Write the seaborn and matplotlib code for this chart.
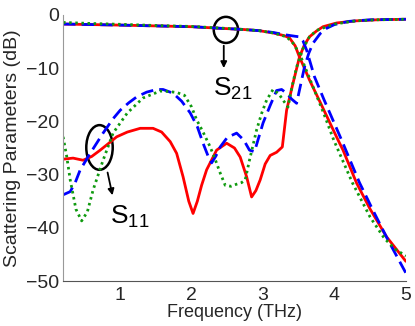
import numpy as np
import pandas as pd
import matplotlib
matplotlib.use("Agg")
import matplotlib.pyplot as plt
from matplotlib.patches import Ellipse
import seaborn as sns

# ---------------------------------------------------------------------------
#  Data (frequency in THz, level in dB)
# ---------------------------------------------------------------------------
s11_red_f = [0.2, 0.34, 0.48, 0.6, 0.72, 0.85, 0.95, 1.1, 1.28, 1.46, 1.58, 1.7,
             1.79, 1.88, 1.96, 2.02, 2.08, 2.14, 2.21, 2.35, 2.49, 2.6, 2.68,
             2.77, 2.84, 2.9, 2.96, 3.03, 3.1, 3.19, 3.27, 3.33, 3.42, 3.51,
             3.58, 3.65, 3.75, 3.84, 4.03, 4.3, 4.6, 5.0]
s11_red_db = [-27.1, -26.9, -27.3, -26.6, -25.4, -24.0, -22.9, -22.0, -21.3,
              -21.3, -22.0, -23.8, -26.0, -30.4, -35.0, -37.3, -35.0, -32.0,
              -29.1, -25.4, -24.1, -25.0, -26.7, -30.4, -34.2, -33.0, -31.0,
              -28.0, -26.4, -25.8, -24.8, -17.9, -12.8, -7.9, -5.6, -4.1, -3.0,
              -2.2, -1.5, -1.1, -0.9, -0.8]

s11_blue_f = [0.2, 0.3, 0.37, 0.44, 0.58, 0.76, 0.9, 1.0, 1.12, 1.23, 1.37, 1.51,
              1.6, 1.74, 1.86, 1.98, 2.08, 2.16, 2.23, 2.28, 2.34, 2.4, 2.5,
              2.63, 2.73, 2.81, 2.88, 2.94, 3.0, 3.1, 3.19, 3.26, 3.33, 3.4,
              3.47, 3.52, 3.58, 3.64, 3.7, 3.8, 3.89, 4.0, 4.2, 4.5, 5.0]
s11_blue_db = [-33.8, -33.2, -31.5, -29.1, -26.0, -22.2, -19.5, -17.9, -16.5,
               -15.4, -14.5, -14.0, -14.0, -14.7, -16.2, -18.4, -21.0, -24.1,
               -26.5, -27.8, -26.5, -24.8, -23.0, -22.2, -23.5, -25.4, -25.7,
               -23.0, -20.3, -17.0, -14.2, -14.0, -14.7, -15.8, -16.6, -13.5,
               -9.8, -7.2, -5.3, -3.5, -2.5, -1.8, -1.2, -0.9, -0.8]

s11_green_f = [0.2, 0.25, 0.3, 0.38, 0.46, 0.54, 0.62, 0.76, 0.9, 1.1, 1.32,
               1.56, 1.7, 1.8, 1.9, 2.0, 2.07, 2.16, 2.26, 2.34, 2.4, 2.47,
               2.55, 2.63, 2.7, 2.75, 2.81, 2.91, 2.98, 3.05, 3.14, 3.22, 3.28,
               3.35, 3.4, 3.47, 3.56, 3.65, 3.75, 3.89, 4.0, 4.3, 4.6, 5.0]
s11_green_db = [-22.9, -26.5, -31.0, -36.5, -38.7, -37.0, -32.9, -27.3, -22.2,
                -18.4, -15.6, -14.3, -14.4, -14.6, -15.1, -17.3, -19.7, -22.0,
                -24.8, -27.5, -29.7, -32.0, -32.2, -31.8, -31.5, -31.0, -27.3,
                -21.6, -18.5, -16.0, -14.0, -14.8, -16.0, -17.3, -13.8, -9.8,
                -6.3, -4.1, -2.9, -2.2, -1.7, -1.1, -0.9, -0.8]

s21_red_f = [0.2, 0.6, 1.0, 1.56, 2.0, 2.4, 2.7, 2.95, 3.15, 3.3, 3.37, 3.45,
             3.51, 3.58, 3.65, 3.8, 4.05, 4.12, 4.31, 4.5, 4.73, 5.0]
s21_red_db = [-1.7, -1.8, -1.9, -2.07, -2.2, -2.5, -2.7, -2.95, -3.4, -3.9,
              -4.3, -5.8, -7.9, -10.0, -12.2, -16.4, -23.5, -25.4, -31.6,
              -36.5, -41.7, -46.3]

s21_blue_f = [0.2, 0.6, 1.0, 1.56, 2.0, 2.4, 2.7, 2.95, 3.15, 3.3, 3.45, 3.51,
              3.56, 3.61, 3.72, 3.85, 4.1, 4.35, 4.55, 4.75, 5.0]
s21_blue_db = [-1.7, -1.8, -1.9, -2.07, -2.2, -2.5, -2.7, -2.95, -3.3, -3.7,
               -4.0, -4.1, -4.9, -6.6, -11.6, -15.8, -23.5, -31.5, -37.0,
               -42.3, -48.5]

s21_green_f = [0.2, 0.6, 1.0, 1.56, 2.0, 2.4, 2.7, 2.95, 3.15, 3.33, 3.42, 3.51,
               3.6, 3.7, 3.85, 3.99, 4.25, 4.5, 4.7, 4.85, 5.0]
s21_green_db = [-1.4, -1.6, -1.75, -2.0, -2.15, -2.45, -2.7, -2.95, -3.4, -4.1,
                -5.3, -7.2, -10.2, -13.5, -18.5, -23.5, -31.5, -38.0, -42.0,
                -44.0, -45.3]

x_ticks = [1, 2, 3, 4, 5]
y_ticks = [0, -10, -20, -30, -40, -50]

RED, BLUE, GREEN = '#ff0000', '#0000ff', '#0f9a0f'

# ---------------------------------------------------------------------------
#  Figure
# ---------------------------------------------------------------------------
sns.set_style("white")
plt.rcParams['font.family'] = ['Liberation Sans', 'DejaVu Sans']
plt.rcParams['mathtext.default'] = 'regular'

fig = plt.figure(figsize=(4.15, 3.26), dpi=100)
ax = fig.add_axes([0.152, 0.138, 0.826, 0.816])

curves = [
    (s11_red_f, s11_red_db, RED, '-'),
    (s21_red_f, s21_red_db, RED, '-'),
    (s11_blue_f, s11_blue_db, BLUE, (0, (4.5, 2.2))),
    (s21_blue_f, s21_blue_db, BLUE, (0, (4.5, 2.2))),
    (s11_green_f, s11_green_db, GREEN, (0, (0.9, 1.3))),
    (s21_green_f, s21_green_db, GREEN, (0, (0.9, 1.3))),
]
for f, db, col, ls in curves:
    df = pd.DataFrame({'f': f, 'db': db})
    sns.lineplot(data=df, x='f', y='db', ax=ax, color=col, lw=2.0,
                 sort=False, estimator=None, linestyle=ls)

ax.set_xlim(0.2, 5)
ax.set_ylim(-50, 0)
ax.set_xticks(x_ticks)
ax.set_yticks(y_ticks)
ax.tick_params(direction='in', labelsize=14, length=3, color='#777777')
ax.tick_params(axis='y', pad=3)
ax.tick_params(axis='x', pad=4)
ax.set_xlabel('Frequency (THz)', fontsize=13, labelpad=0)
ax.set_ylabel('Scattering Parameters (dB)', fontsize=14, labelpad=3)

for side in ['top', 'right']:
    ax.spines[side].set_visible(False)
ax.spines['left'].set_color('#999999')
ax.spines['bottom'].set_color('#555555')

# annotations
ax.add_patch(Ellipse((0.71, -24.9), 0.37, 8.4, fill=False, lw=1.8,
                     color='black'))
ax.annotate('', xy=(0.9, -34.4), xytext=(0.815, -29.1),
            arrowprops=dict(arrowstyle='-|>', color='black', lw=1.3,
                            mutation_scale=9))
ax.text(0.86, -39.2, r'S$_{11}$', fontsize=19, color='black')

ax.add_patch(Ellipse((2.48, -2.8), 0.34, 4.9, fill=False, lw=1.8,
                     color='black'))
ax.annotate('', xy=(2.45, -10.5), xytext=(2.45, -5.25),
            arrowprops=dict(arrowstyle='-|>', color='black', lw=1.3,
                            mutation_scale=9))
ax.text(2.3, -15.2, r'S$_{21}$', fontsize=19, color='black')

fig.savefig('out.png', dpi=100)
